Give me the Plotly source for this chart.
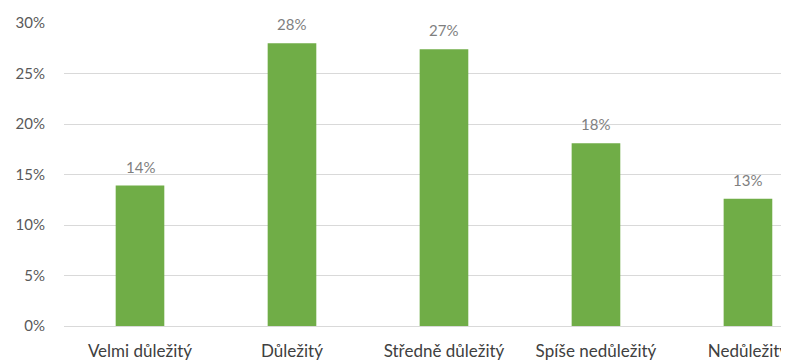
import plotly.graph_objects as go

categories = ["Velmi důležitý", "Důležitý", "Středně důležitý", "Spíše nedůležitý", "Nedůležitý"]
values = [0.139, 0.280, 0.274, 0.181, 0.126]
labels = ["14%", "28%", "27%", "18%", "13%"]

fig = go.Figure()
fig.add_trace(go.Bar(
    x=categories, y=values, width=0.32,
    marker=dict(color="#70AD47", line=dict(width=0)),
    hoverinfo="skip",
))
for c, v, t in zip(categories, values, labels):
    fig.add_annotation(x=c, y=v, text=t, showarrow=False, yanchor="bottom", yshift=8,
                       font=dict(family="Lato, Open Sans, sans-serif", size=15, color="#7F7F7F"))

fig.update_layout(
    width=781, height=352,
    margin=dict(l=56, r=0, t=15, b=34),
    paper_bgcolor="white", plot_bgcolor="white",
    showlegend=False,
)
fig.update_xaxes(range=[-0.5, 4.27], showgrid=False, showline=False, ticks="", automargin=False,
                 tickfont=dict(family="Lato, Open Sans, sans-serif", size=17, color="#404040"),
                 ticklabelstandoff=13)
fig.update_yaxes(range=[0, 0.30], dtick=0.05, tickformat=".0%", showgrid=True, automargin=False,
                 gridcolor="#D9D9D9", gridwidth=1, zeroline=True, zerolinecolor="#D9D9D9",
                 zerolinewidth=1, showline=False, ticks="",
                 tickfont=dict(family="Lato, Open Sans, sans-serif", size=15, color="#595959"),
                 ticklabelstandoff=18)
fig.write_html("out.html")
